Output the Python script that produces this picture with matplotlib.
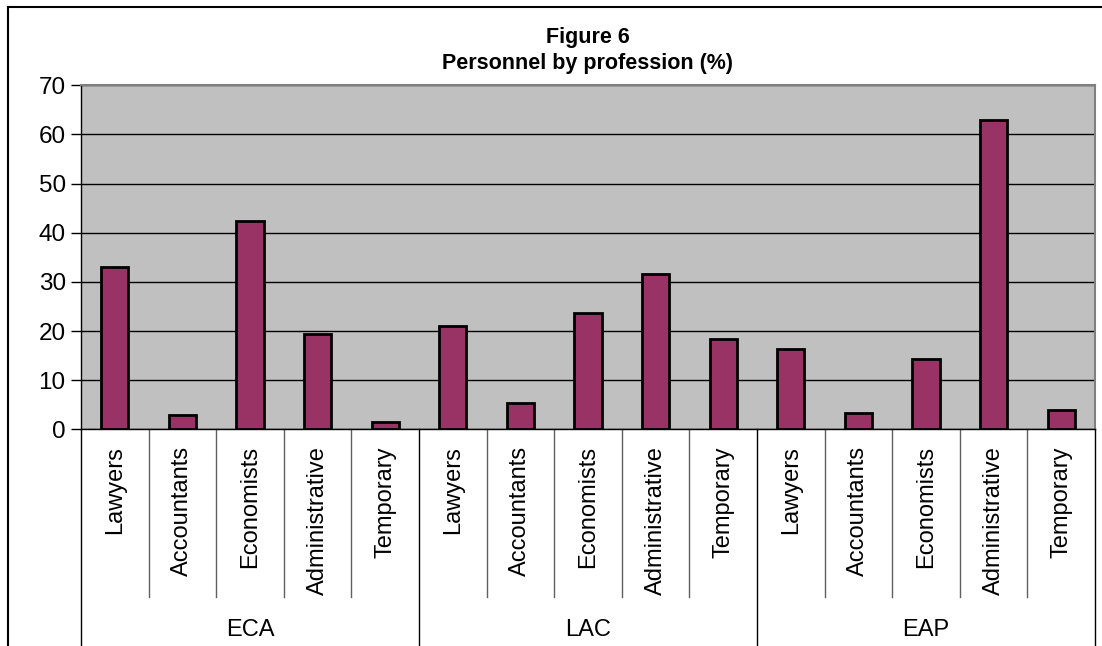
import matplotlib
matplotlib.use("Agg")
import matplotlib.pyplot as plt
from matplotlib.lines import Line2D
from matplotlib.transforms import blended_transform_factory

plt.rcParams["font.family"] = ["Liberation Sans", "DejaVu Sans"]

# Data
regions = ["ECA", "LAC", "EAP"]
professions = ["Lawyers", "Accountants", "Economists", "Administrative", "Temporary"]
eca = [33.0, 2.9, 42.3, 19.3, 1.4]
lac = [21.0, 5.3, 23.7, 31.6, 18.4]
eap = [16.3, 3.3, 14.3, 62.9, 3.9]
yticks = [0, 10, 20, 30, 40, 50, 60, 70]

values = eca + lac + eap
labels = professions * len(regions)
n = len(values)

W, H = 1102, 646
fig = plt.figure(figsize=(W / 100, H / 100), dpi=100)
fig.patch.set_facecolor("white")

# plot area in pixels
left_px, right_px, top_px, bottom_px = 81, 1095, 85.3, 429.3
ax = fig.add_axes([left_px / W, 1 - bottom_px / H,
                   (right_px - left_px) / W, (bottom_px - top_px) / H])
ax.set_facecolor("#C0C0C0")

xs = [i + 0.5 for i in range(n)]
ax.bar(xs, values, width=0.4, color="#993366", edgecolor="black",
       linewidth=2, zorder=3)

ax.set_xlim(0, n)
ax.set_ylim(0, 70)
ax.set_yticks(yticks)
ax.set_yticklabels([str(t) for t in yticks], fontsize=17.5)
ax.tick_params(axis="y", direction="out", length=7, width=1, pad=4)
ax.set_xticks([])
ax.yaxis.grid(True, color="black", linewidth=1, zorder=1)
ax.set_axisbelow(True)

for side in ("top", "right"):
    ax.spines[side].set_color("#808080")
    ax.spines[side].set_linewidth(1.5)
ax.spines["left"].set_color("black")
ax.spines["bottom"].set_color("black")
ax.spines["left"].set_linewidth(1)
ax.spines["bottom"].set_linewidth(1)

trans = blended_transform_factory(ax.transData, ax.transAxes)
plot_h = bottom_px - top_px

def ax_y(px):
    return (bottom_px - px) / plot_h

# category separators
for i in range(n + 1):
    if i % 5 == 0:
        y_end = ax_y(646)
        col = "black"
    else:
        y_end = ax_y(597)
        col = "#606060"
    ax.add_line(Line2D([i, i], [0, y_end], transform=trans, color=col,
                       linewidth=1, clip_on=False))

# profession labels
for x, lab in zip(xs, labels):
    ax.text(x, ax_y(446), lab, transform=trans, rotation=90,
            ha="center", va="top", fontsize=17)

# region labels
for g, reg in enumerate(regions):
    ax.text(g * 5 + 2.5, ax_y(630), reg, transform=trans,
            ha="center", va="center", fontsize=17)

# title
fig.text(588 / W, 1 - 37 / H, "Figure 6", ha="center", va="center",
         fontsize=15.5, fontweight="bold")
fig.text(588 / W, 1 - 63 / H, "Personnel by profession (%)", ha="center",
         va="center", fontsize=15.5, fontweight="bold")

# chart frame
fig.add_artist(Line2D([8 / W, 1], [1 - 7 / H, 1 - 7 / H], color="black",
                      linewidth=1.5, transform=fig.transFigure))
fig.add_artist(Line2D([8 / W, 8 / W], [1 - 7 / H, 0], color="black",
                      linewidth=1.5, transform=fig.transFigure))

fig.savefig("out.png", dpi=100)
